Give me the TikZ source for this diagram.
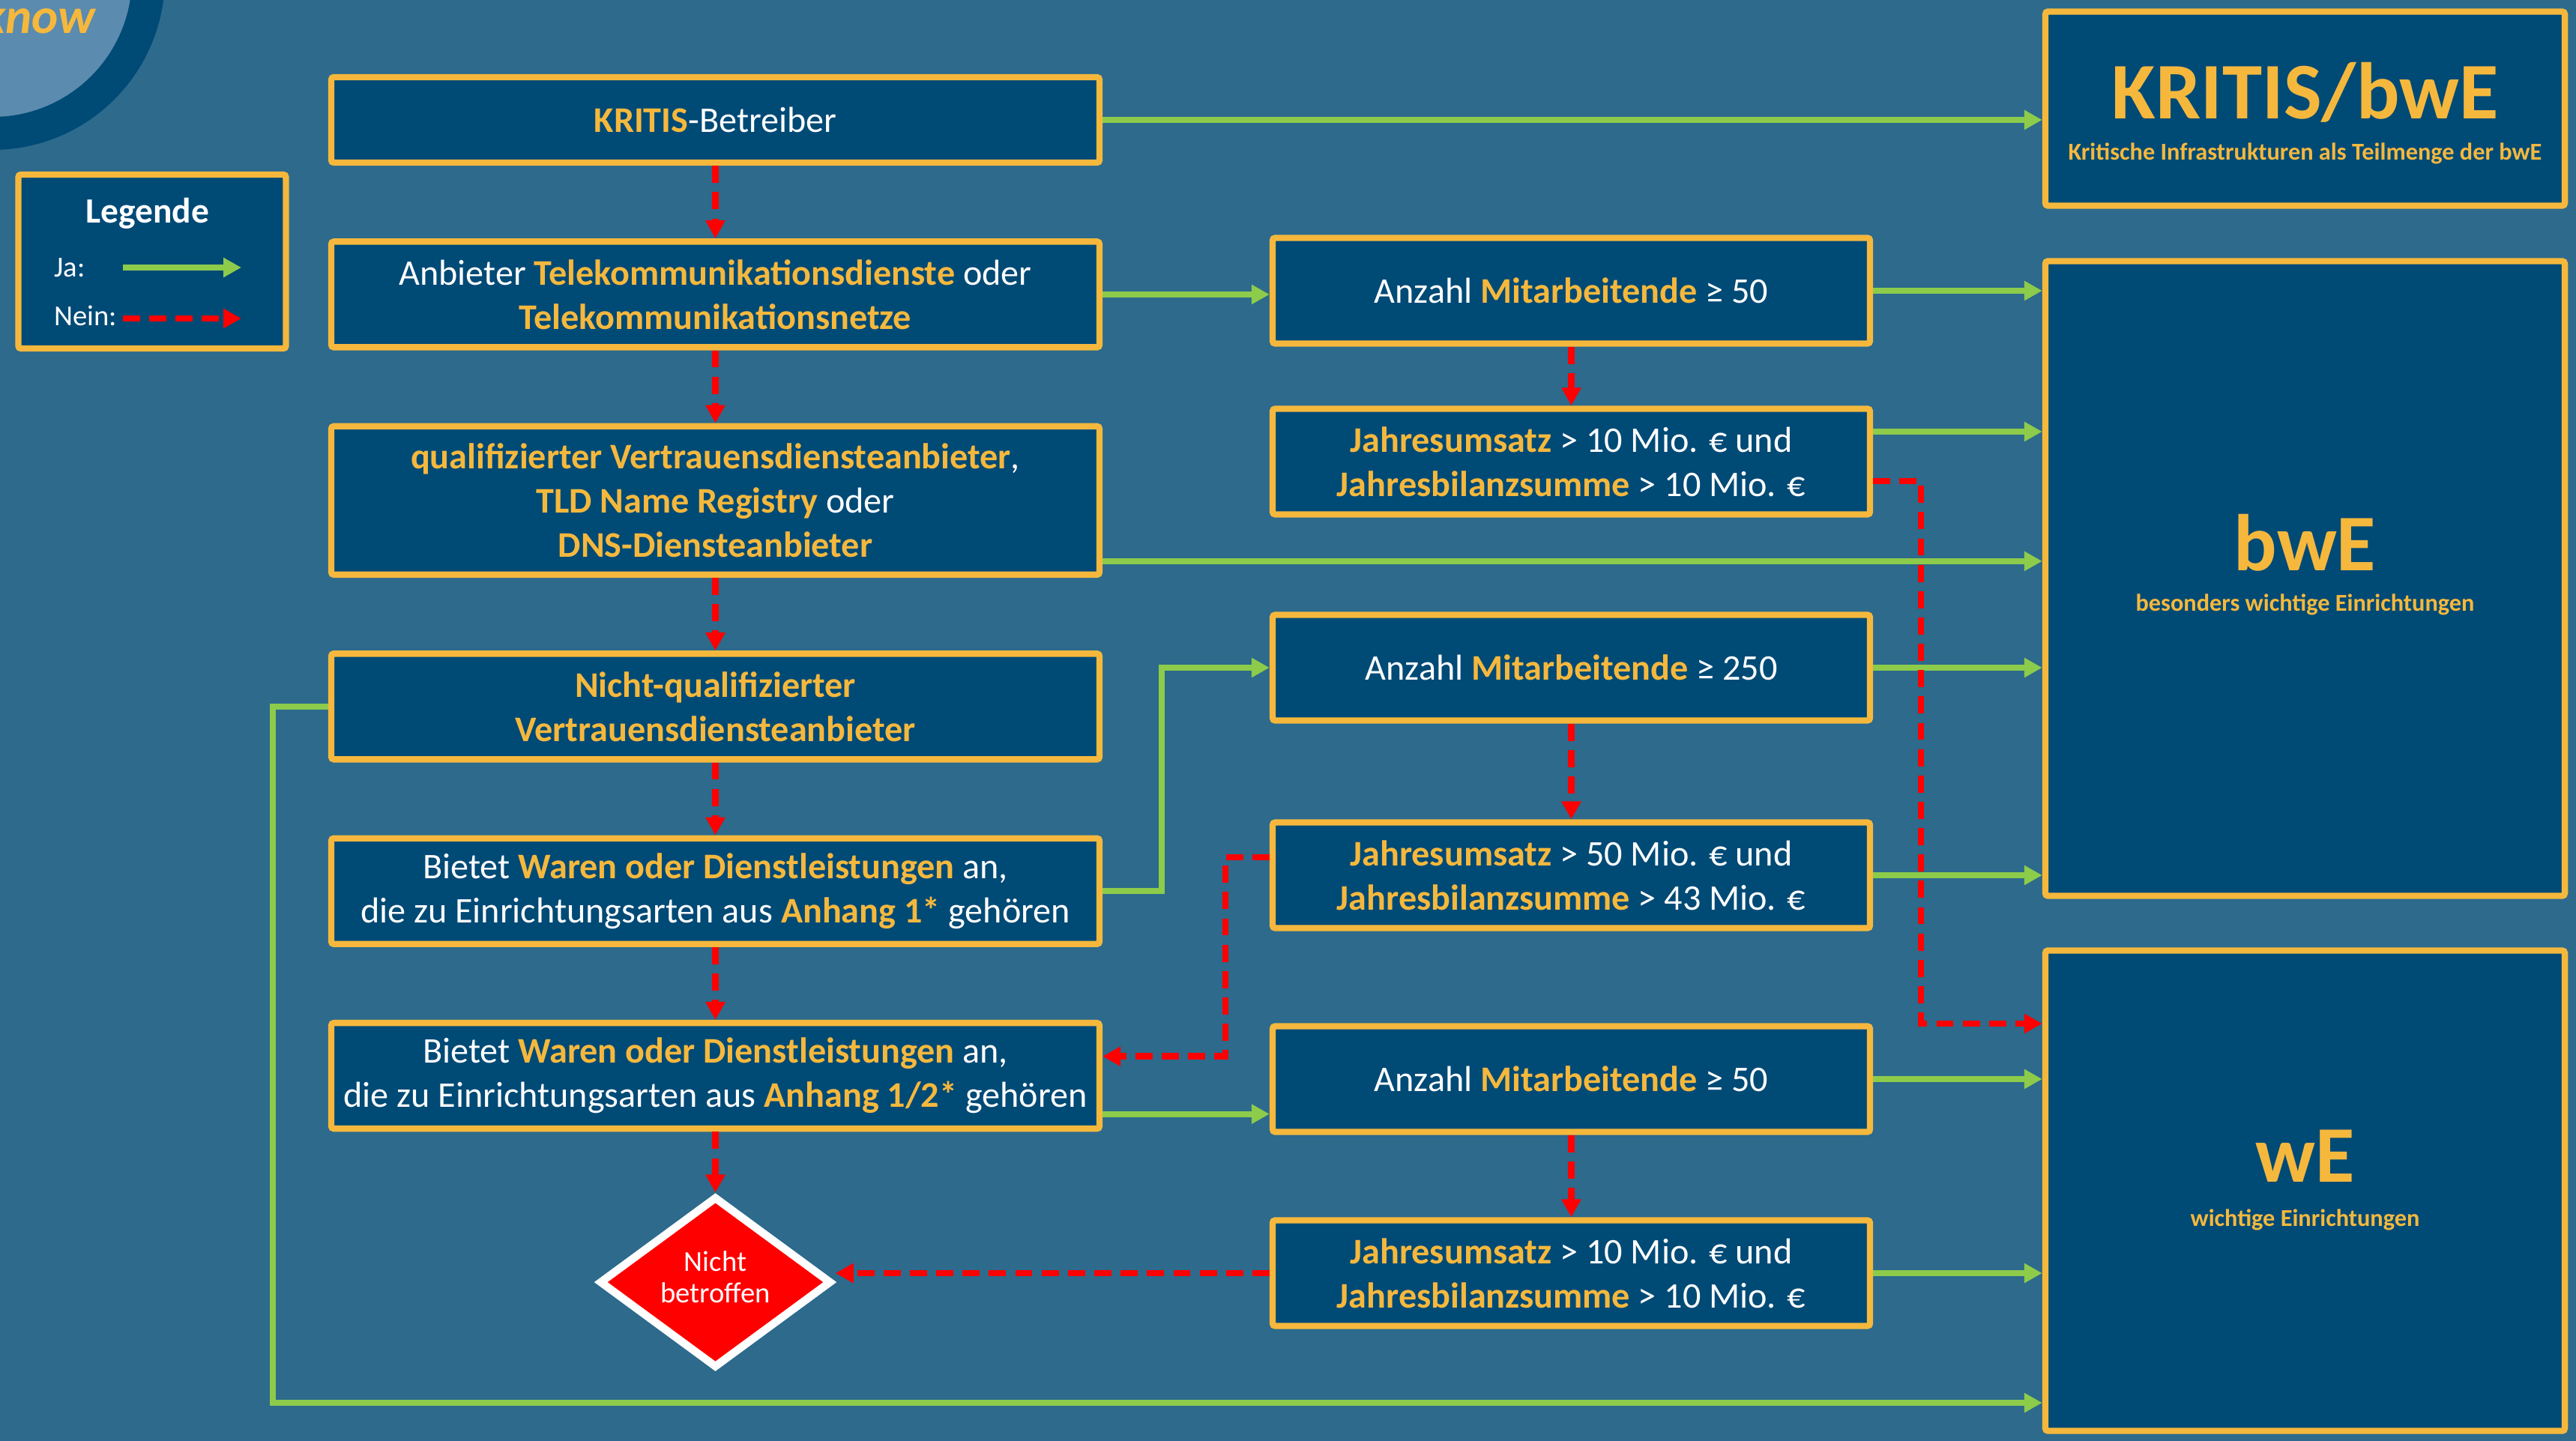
\documentclass[tikz,border=0pt]{standalone}
\usepackage{fontspec}
\setmainfont{Carlito}
\usepackage{tikz}
\usetikzlibrary{shapes.geometric, arrows.meta, positioning, calc}
\definecolor{bgblue}{HTML}{2D6A8C}
\definecolor{knavy}{HTML}{004A76}
\definecolor{klight}{HTML}{5B8BAE}
\definecolor{kgold}{HTML}{F5B83D}
\definecolor{kgreen}{HTML}{8DCB4B}
\definecolor{kred}{HTML}{FF0000}
\newcommand{\gold}[1]{\textcolor{kgold}{\textbf{#1}}}

\begin{document}
\begin{tikzpicture}[
  node distance=0.97cm and 2.23cm,
  every node/.style={font=\fontsize{13.7}{16.8}\selectfont, text=white},
  box/.style={rectangle, draw=kgold, line width=2.4pt, fill=knavy, rounded corners=1pt, align=center, inner sep=2pt},
  leftbox/.style={box, minimum width=10.25cm, minimum height=1.41cm},
  midbox/.style={box, minimum width=7.97cm, minimum height=1.41cm},
  resultbox/.style={box, minimum width=6.93cm},
  bigtitle/.style={anchor=base, text=kgold, font=\fontsize{30.5}{31}\selectfont\bfseries},
  subtitle/.style={anchor=base, text=kgold, font=\fontsize{9.2}{11}\selectfont\bfseries},
  yes/.style={-{Triangle[length=0.24cm, width=0.25cm]}, draw=kgreen, line width=2.2pt},
  no/.style={-{Triangle[length=0.24cm, width=0.25cm]}, draw=kred, line width=2.4pt, dash pattern=on 6.5pt off 3.5pt}
]

% Background and corner badge
\useasboundingbox (0,0) rectangle (34.37,-19.23);
\clip (0,0) rectangle (34.37,-19.23);
\fill[bgblue] (0,0) rectangle (34.37,-19.23);
\fill[knavy] (-0.10,0.30) circle (2.30);
\fill[klight] (-0.10,0.30) circle (1.86);
\node[anchor=base east, text=kgold, font=\fontsize{19}{19}\selectfont\bfseries\itshape] (know) at (1.40,-0.45) {know};

% Legend
\node[box, minimum width=3.57cm, minimum height=2.32cm] (legend) at (2.03,-3.49) {};
\node[font=\fontsize{13.5}{15}\selectfont\bfseries] (legtitle) at (1.97,-2.85) {Legende};
\node[anchor=west, font=\fontsize{11}{13}\selectfont] (ja) at (0.60,-3.57) {Ja:};
\node[anchor=west, font=\fontsize{11}{13}\selectfont] (nein) at (0.60,-4.21) {Nein:};
\coordinate (jaS) at (1.64,-3.57);
\coordinate (jaE) at (3.22,-3.57);
\coordinate (neinS) at (1.64,-4.25);
\coordinate (neinE) at (3.22,-4.25);
\draw[yes] (jaS) -- (jaE);
\draw[no] (neinS) -- (neinE);

% Left column: operator type questions
\node[leftbox, minimum height=1.14cm] (kritis) at (9.545,-1.60) {\gold{KRITIS}-Betreiber};
\node[leftbox, below=of kritis] (anbieter) {Anbieter \gold{Telekommunikationsdienste} oder\\ \gold{Telekommunikationsnetze}};
\node[leftbox, minimum height=1.98cm, below=of anbieter] (qual) {\gold{qualifizierter Vertrauensdiensteanbieter},\\ \gold{TLD Name Registry} oder\\ \gold{DNS-Diensteanbieter}};
\node[leftbox, below=of qual] (nichtq) {\gold{Nicht-qualifizierter}\\ \gold{Vertrauensdiensteanbieter}};
\node[leftbox, below=of nichtq] (bietetA) {Bietet \gold{Waren oder Dienstleistungen} an,\\ die zu Einrichtungsarten aus \gold{Anhang 1*} gehören};
\node[leftbox, below=of bietetA] (bietetB) {Bietet \gold{Waren oder Dienstleistungen} an,\\ die zu Einrichtungsarten aus \gold{Anhang 1/2*} gehören};
\node[diamond, draw=white, line width=3pt, fill=kred, inner sep=0pt, minimum width=3.1cm, minimum height=2.1cm, align=center, font=\fontsize{11}{14}\selectfont, below=0.81cm of bietetB] (nicht) {\raisebox{4pt}{\shortstack{Nicht\\[1pt]betroffen}}};

% Middle column: size thresholds
\node[midbox] (mitA) at (20.965,-3.88) {Anzahl \gold{Mitarbeitende} ≥ 50};
\node[midbox] (umsA) at (20.965,-6.16) {\gold{Jahresumsatz} > 10 Mio. € und\\ \gold{Jahresbilanzsumme} > 10 Mio. €};
\node[midbox] (mitB) at (20.965,-8.91) {Anzahl \gold{Mitarbeitende} ≥ 250};
\node[midbox] (umsB) at (20.965,-11.68) {\gold{Jahresumsatz} > 50 Mio. € und\\ \gold{Jahresbilanzsumme} > 43 Mio. €};
\node[midbox] (mitC) at (20.965,-14.40) {Anzahl \gold{Mitarbeitende} ≥ 50};
\node[midbox] (umsC) at (20.965,-16.99) {\gold{Jahresumsatz} > 10 Mio. € und\\ \gold{Jahresbilanzsumme} > 10 Mio. €};

% Right column: results
\node[resultbox, minimum height=2.59cm] (kbwe) at (30.755,-1.45) {};
\node[resultbox, minimum height=8.47cm] (bwe) at (30.755,-7.72) {};
\node[resultbox, minimum height=6.41cm] (we) at (30.755,-15.89) {};
\node[bigtitle] (kbwetitle) at ($(kbwe.north)+(0,-1.47)$) {KRITIS/bwE};
\node[subtitle] (kbwesub) at ($(kbwe.north)+(0,-2.02)$) {Kritische Infrastrukturen als Teilmenge der bwE};
\node[bigtitle] (bwetitle) at ($(bwe.north)+(0,-4.17)$) {bwE};
\node[subtitle] (bwesub) at ($(bwe.north)+(0,-4.71)$) {besonders wichtige Einrichtungen};
\node[bigtitle] (wetitle) at ($(we.north)+(0,-3.13)$) {wE};
\node[subtitle] (wesub) at ($(we.north)+(0,-3.72)$) {wichtige Einrichtungen};

% Ja arrows
\draw[yes] (kritis.east) -- (kritis.east -| kbwe.west);
\draw[yes] (anbieter.east) -- (anbieter.east -| mitA.west);
\draw[yes] (mitA.east) -- (mitA.east -| bwe.west);
\draw[yes] ([yshift=0.40cm]umsA.east) -- ([yshift=0.40cm]umsA.east -| bwe.west);
\draw[yes] ([yshift=-0.81cm]qual.east) -- ([yshift=-0.81cm]qual.east -| bwe.west);
\draw[yes] (mitB.east) -- (mitB.east -| bwe.west);
\draw[yes] (umsB.east) -- (umsB.east -| bwe.west);
\draw[yes] (bietetA.east) -- ++(0.79,0) |- (mitB.west);
\draw[yes] ([yshift=-0.51cm]bietetB.east) -- ([yshift=-0.51cm]bietetB.east -| mitC.west);
\draw[yes] (mitC.east) -- (mitC.east -| we.west);
\draw[yes] (umsC.east) -- (umsC.east -| we.west);
\draw[yes] (nichtq.west) -- ++(-0.74,0) |- ([yshift=-2.83cm]we.west);

% Nein arrows
\draw[no] (kritis.south) -- (anbieter.north);
\draw[no] (anbieter.south) -- (qual.north);
\draw[no] (qual.south) -- (nichtq.north);
\draw[no] (nichtq.south) -- (bietetA.north);
\draw[no] (bietetA.south) -- (bietetB.north);
\draw[no] (bietetB.south) -- (nicht.north);
\draw[no] (mitA.south) -- (umsA.north);
\draw[no] ([yshift=-0.26cm]umsA.east) -- ++(0.64,0) |- ([yshift=2.23cm]we.west);
\draw[no] (mitB.south) -- (umsB.north);
\draw[no] ([yshift=0.24cm]umsB.west) -- ++(-0.59,0) |- ([yshift=0.26cm]bietetB.east);
\draw[no] (mitC.south) -- (umsC.north);
\draw[no] (umsC.west) -- (umsC.west -| nicht.east);

\end{tikzpicture}
\end{document}
